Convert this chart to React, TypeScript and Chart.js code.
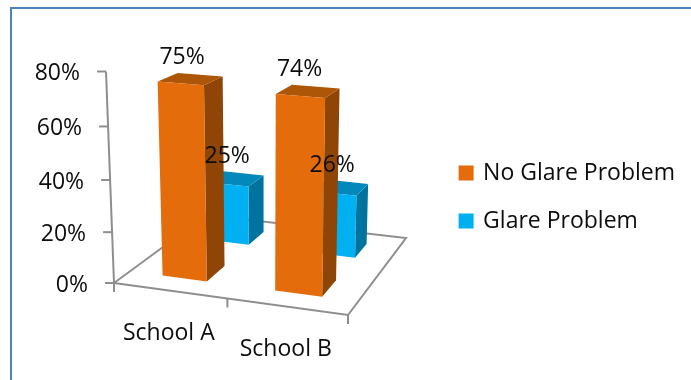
import React, { useEffect, useRef } from "react";
import { Chart, registerables } from "chart.js";

Chart.register(...registerables);

const categories = ["School A", "School B"];
const noGlareProblem = [75, 74];
const glareProblem = [25, 26];
const seriesNames = ["No Glare Problem", "Glare Problem"];
const axisMax = 80;
const axisStep = 20;

const FONT = '"Open Sans", sans-serif';
const TEXT_SIZE = 23;
const INK = "#0d0d0d";
const AXIS_GRAY = "#8e8e8e";
const FRAME_BLUE = "#4f81bd";

// Face shades of each series: front, top, side.
const faces = [
  { front: "#e46c0a", top: "#ad5608", side: "#8f4506" },
  { front: "#00b0f0", top: "#0388bb", side: "#00749f" },
];

// Camera: (u, v) span the floor in 0..1 (width, depth), h is the value axis.
const cam = {
  xu: 213.17, xv: 132.05, x0: 114, xh: -0.16703,
  yu: 13.15, yv: -26.95, y0: 283, yh: -2.689,
  wu: -0.05985, wv: 0.19093, wh: -0.0006327,
};

function project(u: number, v: number, h: number): [number, number] {
  const w = 1 + cam.wu * u + cam.wv * v + cam.wh * h;
  return [
    (cam.x0 + cam.xu * u + cam.xv * v + cam.xh * h) / w,
    (cam.y0 + cam.yu * u + cam.yv * v + cam.yh * h) / w,
  ];
}

function fillPoly(ctx: CanvasRenderingContext2D, pts: [number, number][], color: string) {
  ctx.beginPath();
  pts.forEach(([x, y], i) => (i ? ctx.lineTo(x, y) : ctx.moveTo(x, y)));
  ctx.closePath();
  ctx.fillStyle = color;
  ctx.fill();
}

function line(ctx: CanvasRenderingContext2D, a: [number, number], b: [number, number]) {
  ctx.beginPath();
  ctx.moveTo(a[0], a[1]);
  ctx.lineTo(b[0], b[1]);
  ctx.stroke();
}

// Frame, floor, value axis and category ticks, all taken from the chart's scales.
const axes3d = {
  id: "axes3d",
  beforeDatasetsDraw(chart: any) {
    const { ctx, scales } = chart;
    ctx.save();
    ctx.strokeStyle = FRAME_BLUE;
    ctx.lineWidth = 2;
    ctx.beginPath();
    ctx.moveTo(11, chart.height);
    ctx.lineTo(11, 8);
    ctx.lineTo(chart.width, 8);
    ctx.stroke();

    ctx.strokeStyle = AXIS_GRAY;
    ctx.lineWidth = 2;
    ctx.beginPath();
    ([[0, 0], [1, 0], [1, 1], [0, 1]] as [number, number][]).forEach(([u, v], i) => {
      const [x, y] = project(u, v, 0);
      i ? ctx.lineTo(x, y) : ctx.moveTo(x, y);
    });
    ctx.closePath();
    ctx.stroke();

    line(ctx, project(0, 0, 0), project(0, 0, scales.y.max));

    ctx.font = `${TEXT_SIZE}px ${FONT}`;
    ctx.fillStyle = INK;
    ctx.textBaseline = "middle";
    ctx.textAlign = "right";
    scales.y.ticks.forEach((t: any) => {
      const [x, y] = project(0, 0, t.value);
      line(ctx, [x - 9, y], [x, y]);
      ctx.fillText(t.label, x - 26, y + 2);
    });

    const n = categories.length;
    for (let i = 0; i <= n; i++) {
      const [x, y] = project(i / n, 0, 0);
      line(ctx, [x, y], [x, y + 9]);
    }
    ctx.textAlign = "center";
    scales.x.ticks.forEach((t: any, i: number) => {
      const [x, y] = project((i + 0.5) / n, 0, 0);
      ctx.fillText(t.label, x - 1, y + 43);
    });
    ctx.restore();
  },
  // Each dataset becomes one row of boxes across the floor's depth.
  beforeDatasetDraw(chart: any, args: any) {
    const { ctx, chartArea, scales } = chart;
    const idx = args.index;
    const meta = chart.getDatasetMeta(idx);
    const shade = faces[idx];
    const rows = chart.data.datasets.length;
    meta.data.forEach((bar: any) => {
      const u0 = (bar.x - bar.width / 2 - chartArea.left) / chartArea.width;
      const u1 = (bar.x + bar.width / 2 - chartArea.left) / chartArea.width;
      const depth = u1 - u0;
      const vc = (idx + 0.5) / rows;
      const v0 = vc - depth / 2;
      const v1 = vc + depth / 2;
      const h = scales.y.getValueForPixel(bar.y);
      fillPoly(ctx, [project(u1, v0, 0), project(u1, v1, 0), project(u1, v1, h), project(u1, v0, h)], shade.side);
      fillPoly(ctx, [project(u0, v0, h), project(u1, v0, h), project(u1, v1, h), project(u0, v1, h)], shade.top);
      fillPoly(ctx, [project(u0, v0, 0), project(u1, v0, 0), project(u1, v0, h), project(u0, v0, h)], shade.front);
    });
    return false;
  },
  // Value labels sit above each box, over every other mark.
  afterDatasetsDraw(chart: any) {
    const { ctx, chartArea, scales } = chart;
    ctx.save();
    ctx.font = `${TEXT_SIZE}px ${FONT}`;
    ctx.fillStyle = INK;
    ctx.textAlign = "center";
    ctx.textBaseline = "middle";
    chart.data.datasets.forEach((ds: any, idx: number) => {
      chart.getDatasetMeta(idx).data.forEach((bar: any, i: number) => {
        const u = (bar.x - chartArea.left) / chartArea.width;
        const vc = (idx + 0.5) / chart.data.datasets.length;
        const [x, y] = project(u, vc, scales.y.getValueForPixel(bar.y));
        ctx.fillText(`${ds.data[i]}%`, x - 8.5, y - 22);
      });
    });
    ctx.restore();
  },
};

export default function App() {
  const ref = useRef<HTMLCanvasElement | null>(null);
  useEffect(() => {
    const chart = new Chart(ref.current as HTMLCanvasElement, {
      type: "bar",
      data: {
        labels: categories,
        datasets: [
          { label: seriesNames[0], data: noGlareProblem, backgroundColor: faces[0].front, borderColor: faces[0].front, borderWidth: 4 },
          { label: seriesNames[1], data: glareProblem, backgroundColor: faces[1].front, borderColor: faces[1].front, borderWidth: 4 },
        ],
      },
      options: {
        responsive: false,
        animation: false,
        layout: { padding: { top: 14, right: 6 } },
        datasets: { bar: { categoryPercentage: 0.4, barPercentage: 1 } },
        scales: {
          x: { display: false, stacked: true },
          y: {
            display: false,
            min: 0,
            max: axisMax,
            ticks: { stepSize: axisStep, callback: (v: any) => `${v}%` },
          },
        },
        plugins: {
          tooltip: { enabled: false },
          legend: {
            position: "right",
            labels: {
              color: INK,
              font: { family: FONT, size: TEXT_SIZE },
              boxWidth: 11,
              boxHeight: 11,
              padding: 25,
            },
          },
        },
      } as any,
      plugins: [axes3d],
    });
    return () => chart.destroy();
  }, []);
  return (
    <div style={{ position: "absolute", left: 0, top: 0, width: 691, height: 380, background: "#fff" }}>
      <canvas ref={ref} width={691} height={380} style={{ display: "block" }} />
    </div>
  );
}
